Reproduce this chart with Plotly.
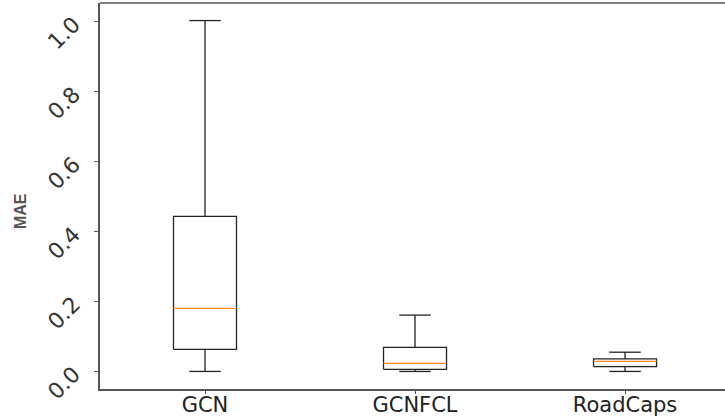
import plotly.graph_objects as go

categories = ["GCN", "GCNFCL", "RoadCaps"]
lower_whisker = [0.0, 0.0, 0.0]
q1_values = [0.063, 0.006, 0.014]
median_values = [0.18, 0.023, 0.029]
q3_values = [0.443, 0.069, 0.036]
upper_whisker = [1.003, 0.161, 0.055]
y_ticks = [0.0, 0.2, 0.4, 0.6, 0.8, 1.0]

positions = [1, 2, 3]
box_w = 0.3
cap_w = box_w / 2

bx, by, wx, wy, mx, my = [], [], [], [], [], []
for p, lo, a, m, b, hi in zip(positions, lower_whisker, q1_values, median_values, q3_values, upper_whisker):
    l, r = p - box_w / 2, p + box_w / 2
    bx += [l, r, r, l, l, None]
    by += [a, a, b, b, a, None]
    wx += [p, p, None, p, p, None]
    wy += [a, lo, None, b, hi, None]
    wx += [p - cap_w / 2, p + cap_w / 2, None, p - cap_w / 2, p + cap_w / 2, None]
    wy += [lo, lo, None, hi, hi, None]
    mx += [l, r, None]
    my += [m, m, None]

fig = go.Figure()
fig.add_trace(go.Scatter(x=wx, y=wy, mode="lines", line=dict(color="#222222", width=1.3),
                         showlegend=False, hoverinfo="skip"))
fig.add_trace(go.Scatter(x=bx, y=by, mode="lines", line=dict(color="#222222", width=1.3),
                         showlegend=False, hoverinfo="skip"))
fig.add_trace(go.Scatter(x=mx, y=my, mode="lines", line=dict(color="#ff8c1a", width=1.2),
                         showlegend=False, hoverinfo="skip"))

fig.update_layout(
    width=725, height=420,
    margin=dict(l=100, r=0, t=3, b=31, autoexpand=False),
    plot_bgcolor="white", paper_bgcolor="white",
    font=dict(family="DejaVu Sans", color="#222222"),
    shapes=[dict(type="line", xref="paper", yref="paper", x0=0, x1=1, y0=1, y1=1,
                 line=dict(color="#555555", width=1.5))],
    annotations=[dict(text="<b>MAE</b>", xref="paper", yref="paper", x=0, y=0.461,
                      xanchor="center", yanchor="middle", xshift=-80, textangle=-90,
                      showarrow=False,
                      font=dict(family="Liberation Sans", size=16, color="#555555"))],
)
fig.update_xaxes(
    range=[0.5, 3.476], automargin=False,
    tickvals=positions, ticktext=categories,
    tickfont=dict(size=21, color="#222222"),
    ticks="outside", ticklen=3, tickcolor="#555555", ticklabelstandoff=-7,
    showline=True, linecolor="#555555", linewidth=1.5, mirror=False,
    showgrid=False, zeroline=False,
)
fig.update_yaxes(
    range=[-0.0502, 1.0532], automargin=False,
    tickvals=y_ticks, ticktext=[f"{v:.1f}" for v in y_ticks],
    tickangle=-45, ticklabelstandoff=16,
    tickfont=dict(size=22, color="#333333"),
    ticks="outside", ticklen=4, tickcolor="#555555",
    showline=True, linecolor="#555555", linewidth=1.5, mirror=False,
    showgrid=False, zeroline=False,
)

fig.write_html("out.html")
